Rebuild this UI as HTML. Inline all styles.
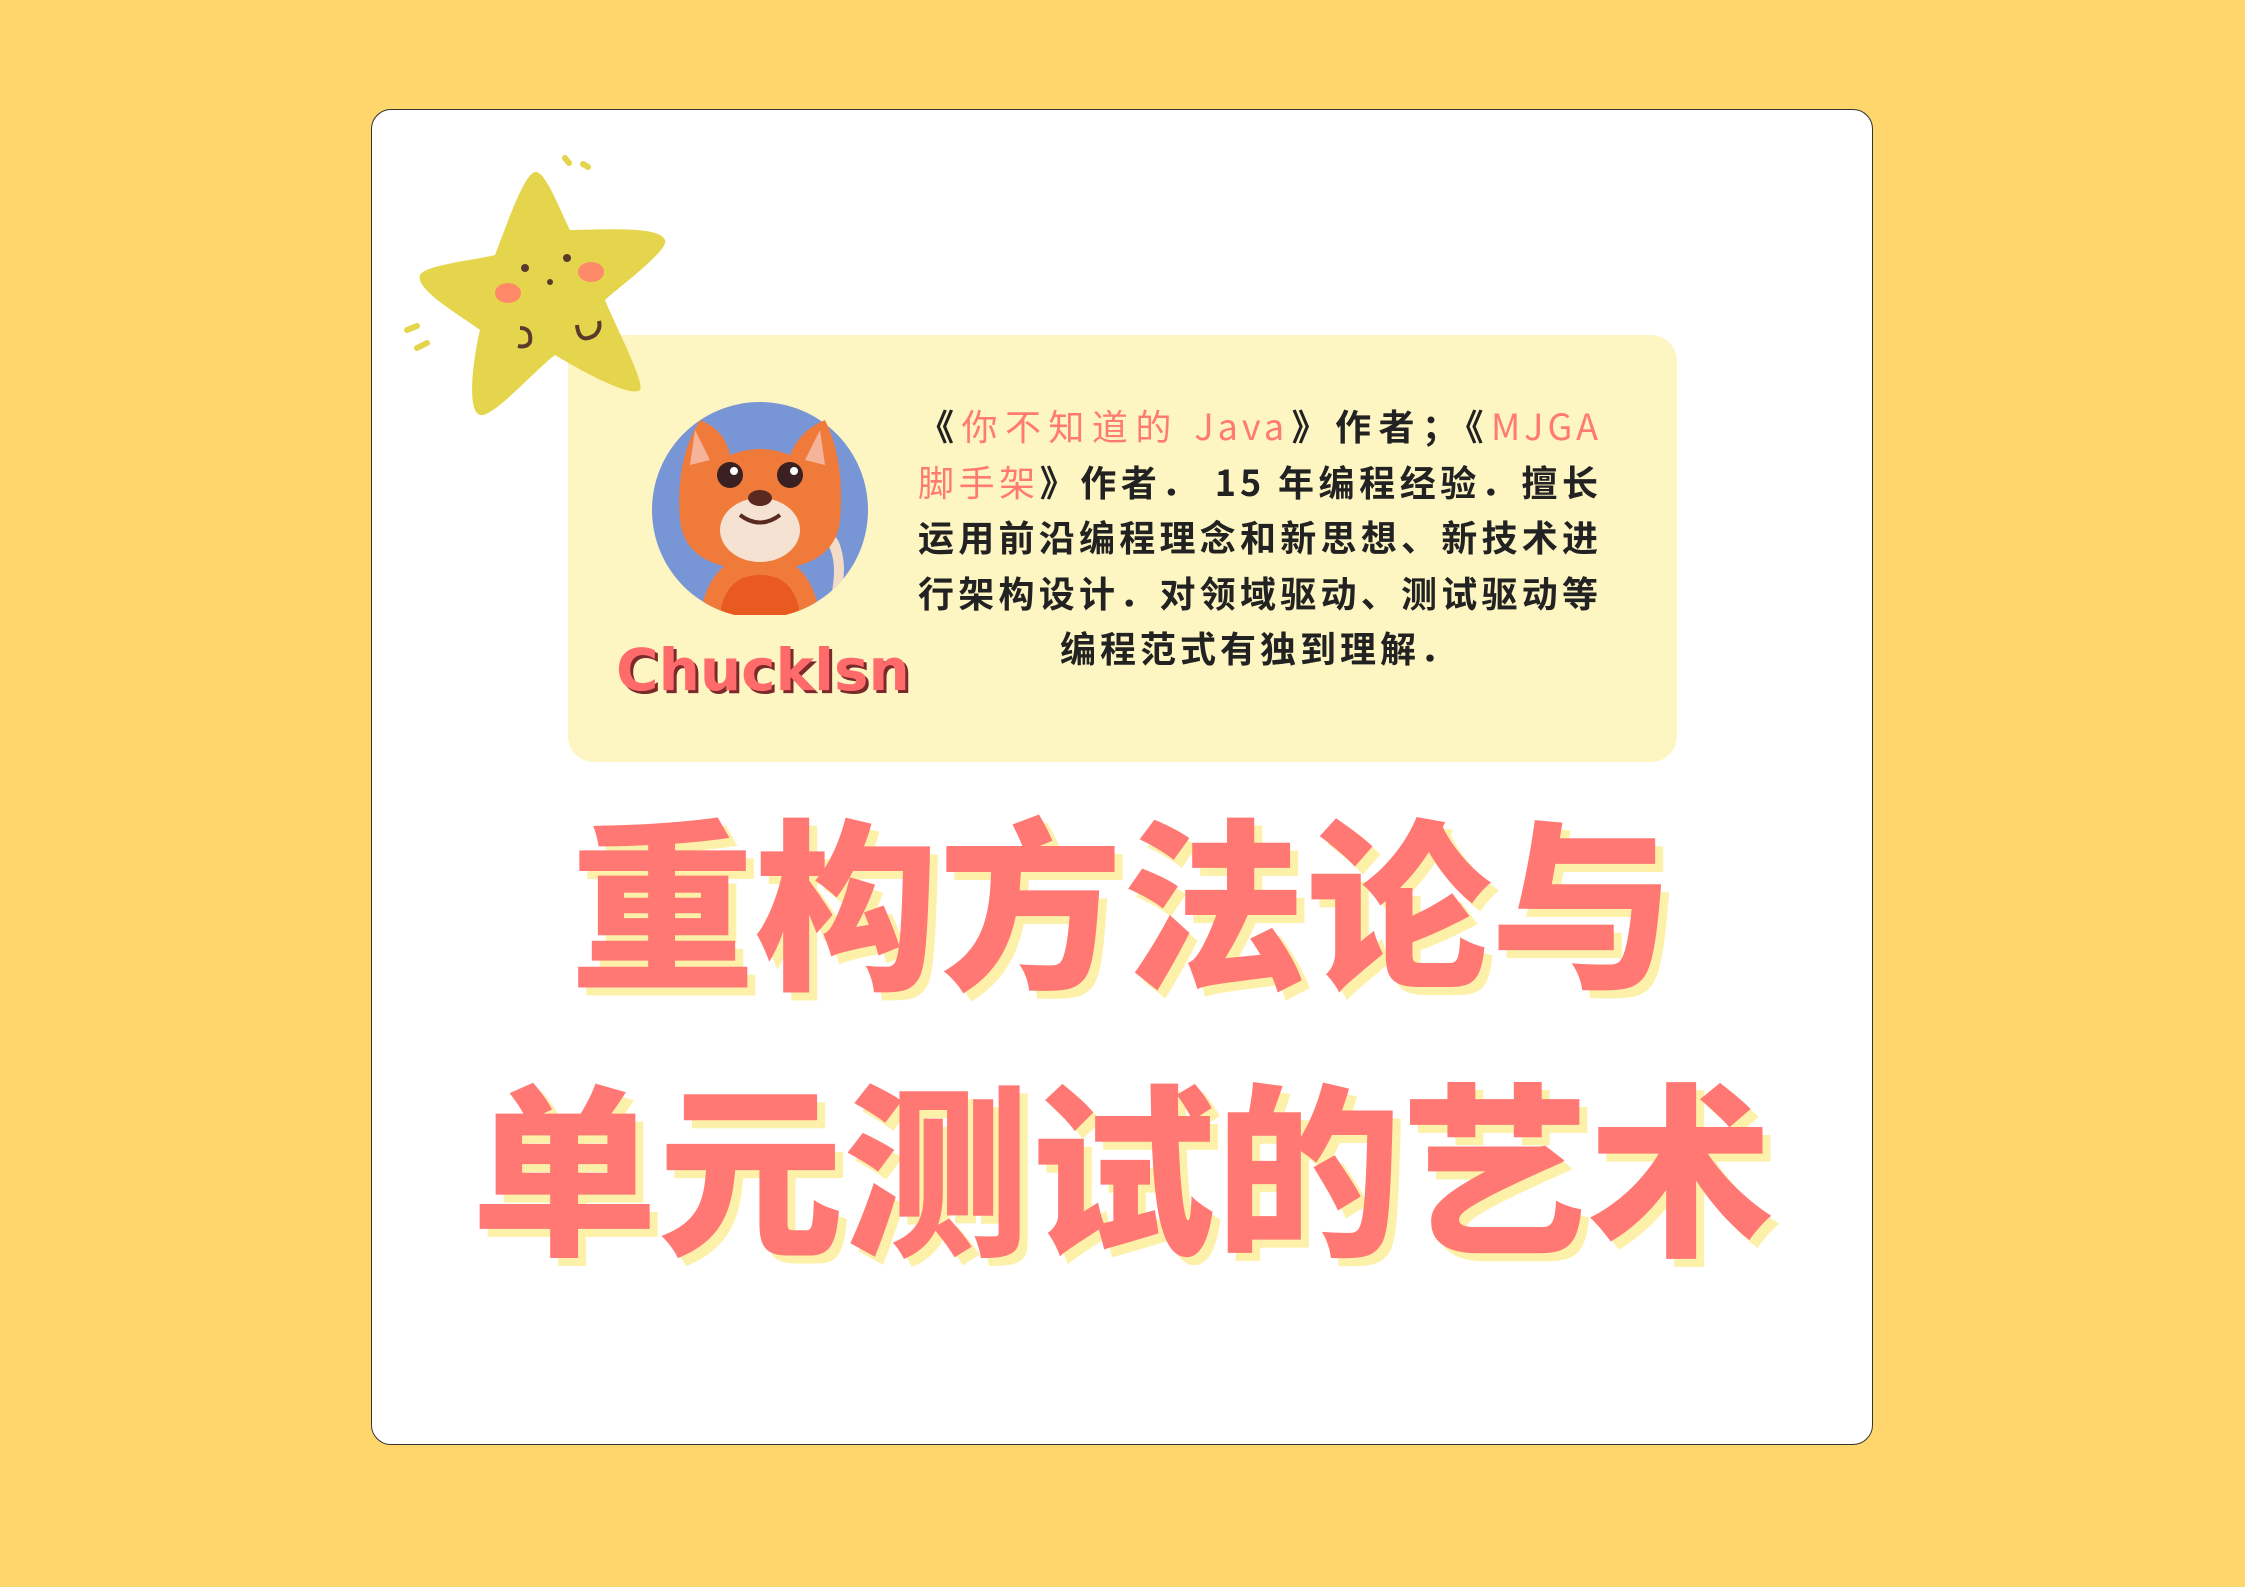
<!DOCTYPE html>
<html><head><meta charset="utf-8">
<style>
html,body{margin:0;padding:0}
body{width:2245px;height:1587px;background:#ffd66b;position:relative;overflow:hidden;font-family:"Liberation Sans","Noto Sans CJK SC",sans-serif}
.card{position:absolute;left:371px;top:109px;width:1502px;height:1336px;background:#fff;border:1.5px solid #333;border-radius:20px;box-sizing:border-box}
.box{position:absolute;left:568px;top:335px;width:1109px;height:427px;background:#fdf5c2;border-radius:26px}
.para{position:absolute;left:918px;top:398px;width:684px;font-family:"Noto Sans CJK SC",sans-serif;font-weight:700;font-size:36px;line-height:55.5px;color:#222;text-align:justify;text-align-last:center;letter-spacing:4px}
.para .r{color:#ff7a73;font-weight:400}
.name{position:absolute;left:616px;top:636px;font-family:"DejaVu Sans","Liberation Sans",sans-serif;font-weight:900;font-size:58px;color:#ff6b6b;letter-spacing:0px;text-shadow:3px 3px 0 #7a2a2a}
.title{position:absolute;left:0;width:2245px;text-align:center;font-family:"Noto Sans CJK SC",sans-serif;font-weight:900;color:#ff7873;text-shadow:8px 8px 0 #fdf0a8;white-space:nowrap}
</style></head><body>
<div class="card"></div>
<div class="box"></div>
<svg style="position:absolute;left:395px;top:150px" width="280" height="275" viewBox="0 0 280 275">
<path d="M140 22 C150 20 165 60 175 80 C200 80 265 75 270 90 C275 100 220 140 210 150 C220 175 250 232 245 240 C235 248 185 220 160 205 C140 220 98 268 85 265 C70 260 80 200 85 180 C65 165 20 140 25 125 C30 115 80 110 100 105 C110 80 128 25 140 22Z" fill="#e5d54c"/>
<circle cx="130" cy="118" r="4" fill="#5a3a2a"/><circle cx="172" cy="108" r="4" fill="#5a3a2a"/><circle cx="155" cy="132" r="3" fill="#5a3a2a"/>
<ellipse cx="113" cy="143" rx="13" ry="10" fill="#ff8a6a"/><ellipse cx="196" cy="122" rx="13" ry="10" fill="#ff8a6a"/>
<path d="M125 178 q12 0 10 14 q-3 6 -12 4" stroke="#5a3a2a" stroke-width="4" fill="none"/>
<path d="M182 175 q2 20 18 10 q6 -6 4 -14" stroke="#5a3a2a" stroke-width="4" fill="none"/>
<path d="M12 180 l10 -4 M22 198 l10 -5 M170 8 l4 5 M188 14 l5 3" stroke="#e5d54c" stroke-width="6" stroke-linecap="round"/>
</svg>
<svg style="position:absolute;left:650px;top:400px" width="220" height="215" viewBox="0 0 220 215">
<defs><clipPath id="c"><circle cx="110" cy="110" r="108"/></clipPath></defs>
<circle cx="110" cy="110" r="108" fill="#7896d6"/>
<g clip-path="url(#c)">
<path d="M50 215 q10 -60 60 -60 q50 0 60 60z" fill="#f07a3a"/>
<path d="M70 215 q5 -40 40 -40 q35 0 40 40z" fill="#e85a20"/>
<path d="M180 200 q10 -40 -5 -60 q10 -10 15 5 q10 30 -5 60z" fill="#f3ddc7"/>
</g>
<path d="M30 120 q-5 -60 20 -100 q25 10 30 35 q30 -12 60 0 q10 -25 35 -35 q20 40 15 100 q-5 50 -80 50 q-75 0 -80 -50z" fill="#f07a3a"/>
<path d="M45 30 l15 30 l-20 5z M170 30 l-15 30 l20 5z" fill="#f5b49a"/>
<ellipse cx="110" cy="130" rx="40" ry="32" fill="#f6e2d2"/>
<circle cx="80" cy="75" r="13" fill="#3a2020"/><circle cx="140" cy="75" r="13" fill="#3a2020"/>
<circle cx="84" cy="71" r="4" fill="#fff"/><circle cx="144" cy="71" r="4" fill="#fff"/>
<ellipse cx="110" cy="98" rx="12" ry="8" fill="#5a2a20"/>
<path d="M90 115 q20 15 40 0" stroke="#5a2a20" stroke-width="4" fill="none"/>
</svg>
<div class="name">Chucklsn</div>
<div class="para">《<span class="r">你不知道的 Java</span>》作者；《<span class="r">MJGA 脚手架</span>》作者． 15 年编程经验．擅长运用前沿编程理念和新思想、新技术进行架构设计．对领域驱动、测试驱动等编程范式有独到理解．</div>
<div class="title" style="top:785px;font-size:184px;line-height:220px">重构方法论与</div>
<div class="title" style="top:1050px;font-size:186px;line-height:220px">单元测试的艺术</div>
</body></html>
